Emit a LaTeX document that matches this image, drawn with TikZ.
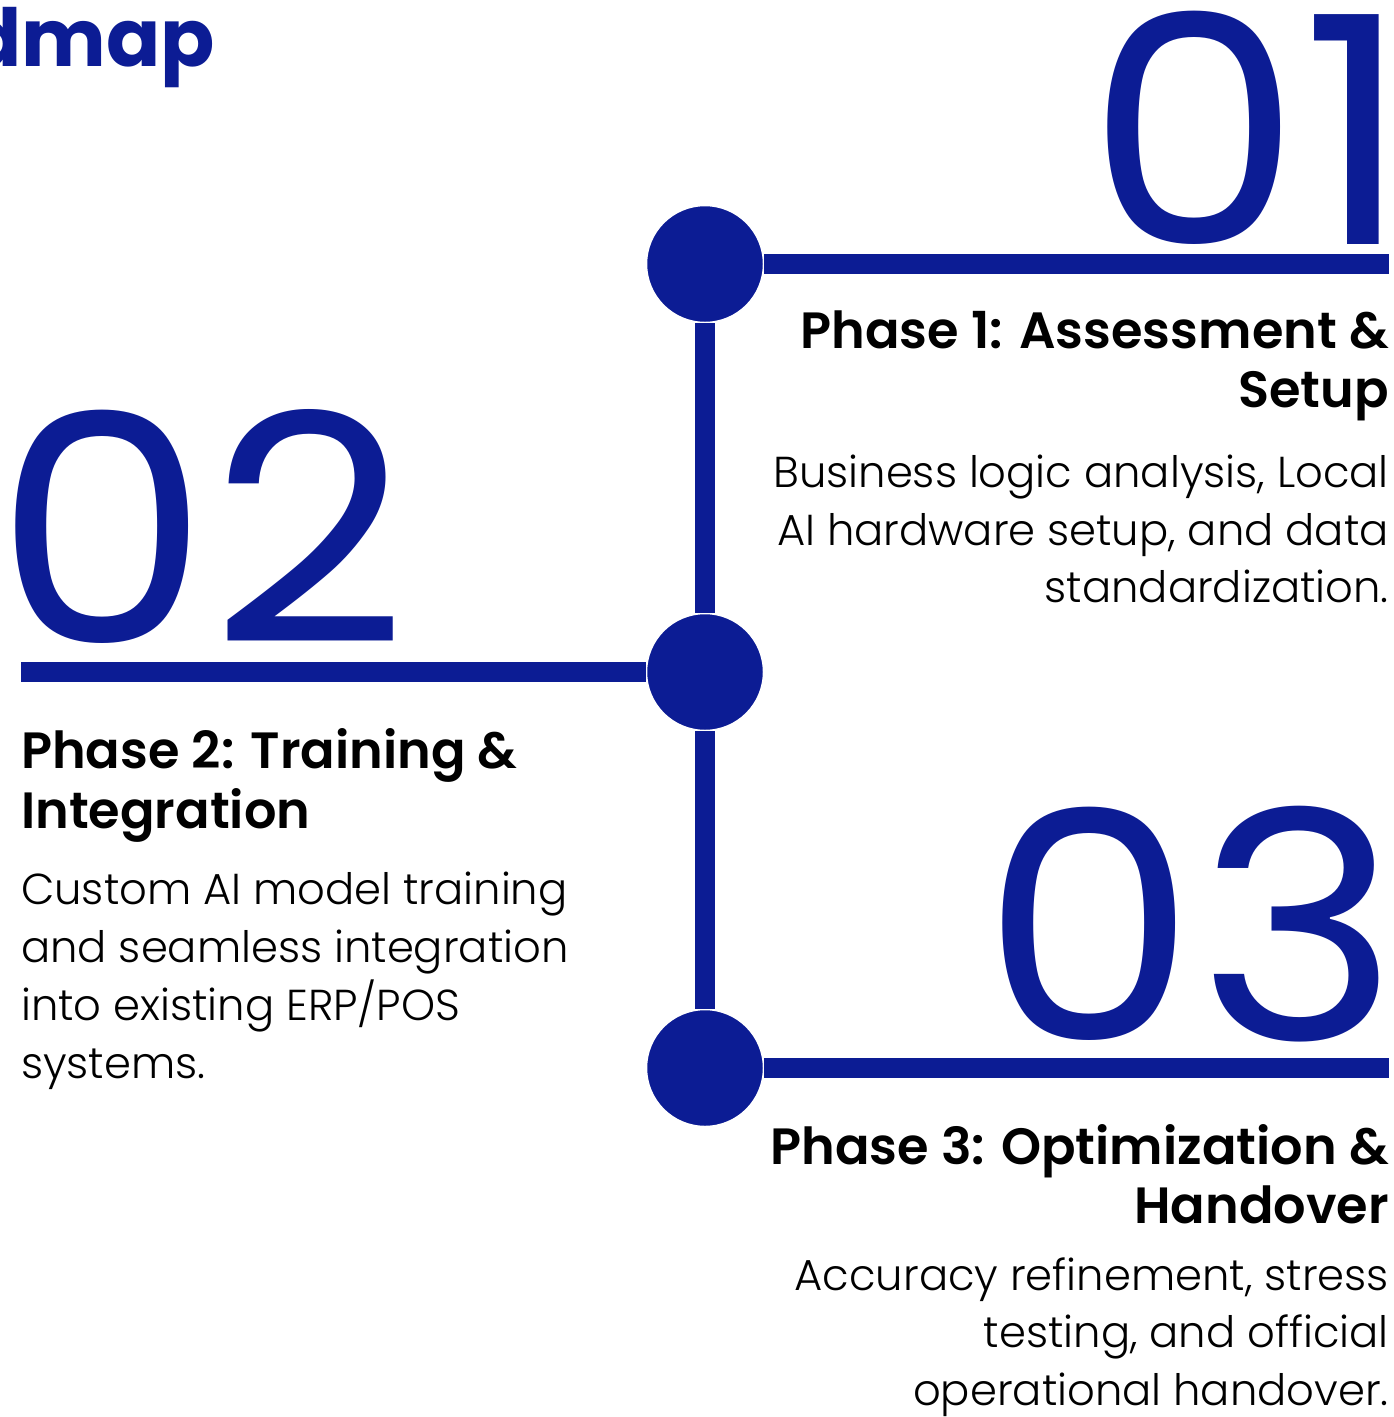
\documentclass[tikz,border=0pt]{standalone}
\usepackage{fontspec}
\setmainfont{Poppins}
\IfFontExistsTF{Poppins Light}{\newfontfamily\lightf{Poppins Light}}{\newfontfamily\lightf{Poppins}}
\IfFontExistsTF{Poppins SemiBold}{\newfontfamily\semif{Poppins SemiBold}}{\newfontfamily\semif{Poppins}[FakeBold=0]\def\semif{\bfseries}}
\definecolor{navy}{RGB}{12,28,148}
\newcommand{\widedigits}[1]{\scalebox{1.08}[1]{#1}}
\tikzset{
  dotnode/.style={circle, fill=navy, draw=white, line width=1.5pt, minimum size=117pt, inner sep=0pt},
  barline/.style={line width=20pt, draw=navy},
  bignum/.style={font=\fontsize{318}{318}\selectfont, text=navy, inner sep=0pt},
  ttlR/.style={font=\semif\fontsize{51}{58}\selectfont, inner sep=0pt, anchor=base east},
  ttlL/.style={font=\semif\fontsize{51}{58}\selectfont, inner sep=0pt, anchor=base west},
  bodyR/.style={font=\lightf\fontsize{43.3}{58}\selectfont, inner sep=0pt, anchor=base east},
  bodyL/.style={font=\lightf\fontsize{43.3}{58}\selectfont, inner sep=0pt, anchor=base west},
}
\begin{document}
\begin{tikzpicture}[x=1pt,y=-1pt]
\useasboundingbox[fill=white] (0,0) rectangle (1394,1417);

% title fragment
\node[font=\bfseries\fontsize{80}{80}\selectfont, text=navy, inner sep=0pt, anchor=base east] (head) at (215,66) {dmap};

% big numbers
\node[bignum, anchor=base east] (n1) at (1412,244) {\widedigits{01}};
\node[bignum, anchor=base west] (n2) at (-5.5,643) {\widedigits{02}};
\node[bignum, anchor=base east] (n3) at (1399.5,1040) {\widedigits{03}};

% spine and dots
\node[dotnode] (d1) at (705,264) {};
\node[dotnode] (d2) at (705,672) {};
\node[dotnode] (d3) at (705,1068) {};
\coordinate (e1) at (1389,264);
\coordinate (e2) at (21,672);
\coordinate (e3) at (1389,1068);
\draw[barline] (d1.south) -- (d2.north);
\draw[barline] (d2.south) -- (d3.north);
\draw[barline] (d1.east) -- (e1);
\draw[barline] (e2) -- (d2.west);
\draw[barline] (d3.east) -- (e3);

% phase 1
\node[ttlR] (t1a) at (1389,348) {Phase 1: Assessment \&};
\node[ttlR] (t1b) at (1389,407) {Setup};
\node[bodyR] (b1a) at (1389,487) {Business logic analysis, Local};
\node[bodyR] (b1b) at (1389,545) {AI hardware setup, and data};
\node[bodyR] (b1c) at (1389,602) {standardization.};

% phase 2
\node[ttlL] (t2a) at (21,768) {Phase 2: Training \&};
\node[ttlL] (t2b) at (21,828) {Integration};
\node[bodyL] (b2a) at (21,904) {Custom AI model training};
\node[bodyL] (b2b) at (21,962) {and seamless integration};
\node[bodyL] (b2c) at (21,1020) {into existing ERP/POS};
\node[bodyL] (b2d) at (21,1078) {systems.};

% phase 3
\node[ttlR] (t3a) at (1389,1164) {Phase 3: Optimization \&};
\node[ttlR] (t3b) at (1389,1223) {Handover};
\node[bodyR] (b3a) at (1389,1290) {Accuracy refinement, stress};
\node[bodyR] (b3b) at (1389,1347) {testing, and official};
\node[bodyR] (b3c) at (1389,1405) {operational handover.};
\end{tikzpicture}
\end{document}
